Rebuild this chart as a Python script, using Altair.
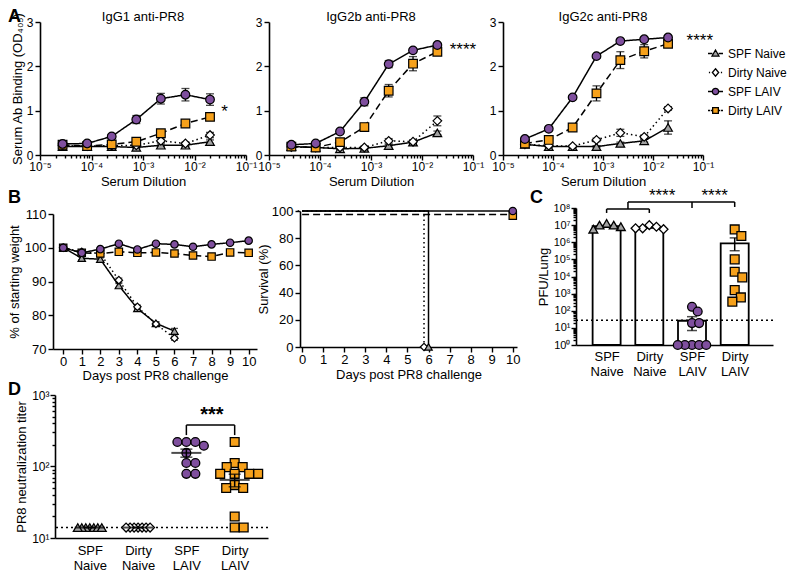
import math
import altair as alt
import pandas as pd

FONT = "Liberation Sans"
GROUPS = ["SPF Naive", "Dirty Naive", "SPF LAIV", "Dirty LAIV"]
FILLS = ["#a3a3a3", "#ffffff", "#7f4f9e", "#f6a11b"]
SHAPES = ["triangle-up", "diamond", "circle", "square"]
DASHES = [[1, 0], [1.5, 3], [1, 0], [7, 4]]
DRAW_ORDER = ["SPF Naive", "Dirty Naive", "Dirty LAIV", "SPF LAIV"]
STYLE = {g: (s, f, d) for g, s, f, d in zip(GROUPS, SHAPES, FILLS, DASHES)}

# ---------------- Panel A : serum antibody binding (OD405) ----------------
dilution = [1 / 36450, 1 / 12150, 1 / 4050, 1 / 1350, 1 / 450, 1 / 150, 1 / 50]

igg1_spf_naive = [0.19, 0.19, 0.19, 0.17, 0.22, 0.22, 0.30]
igg1_dirty_naive = [0.21, 0.20, 0.21, 0.22, 0.32, 0.26, 0.45]
igg1_spf_laiv = [0.25, 0.26, 0.42, 0.80, 1.27, 1.36, 1.25]
igg1_dirty_laiv = [0.23, 0.20, 0.24, 0.30, 0.49, 0.71, 0.86]
igg1_spf_naive_err = [0.02, 0.02, 0.02, 0.02, 0.03, 0.03, 0.04]
igg1_dirty_naive_err = [0.02, 0.02, 0.02, 0.03, 0.04, 0.03, 0.06]
igg1_spf_laiv_err = [0.03, 0.03, 0.04, 0.09, 0.12, 0.14, 0.13]
igg1_dirty_laiv_err = [0.02, 0.02, 0.03, 0.04, 0.05, 0.05, 0.05]

igg2b_spf_naive = [0.19, 0.17, 0.14, 0.15, 0.21, 0.29, 0.50]
igg2b_dirty_naive = [0.18, 0.17, 0.17, 0.17, 0.32, 0.30, 0.77]
igg2b_spf_laiv = [0.23, 0.26, 0.53, 1.20, 2.05, 2.36, 2.48]
igg2b_dirty_laiv = [0.19, 0.17, 0.29, 0.63, 1.45, 2.06, 2.33]
igg2b_spf_naive_err = [0.02, 0.02, 0.02, 0.03, 0.03, 0.04, 0.04]
igg2b_dirty_naive_err = [0.02, 0.02, 0.02, 0.03, 0.05, 0.04, 0.11]
igg2b_spf_laiv_err = [0.02, 0.03, 0.04, 0.09, 0.08, 0.04, 0.03]
igg2b_dirty_laiv_err = [0.02, 0.02, 0.04, 0.06, 0.14, 0.16, 0.08]

igg2c_spf_naive = [0.24, 0.19, 0.19, 0.19, 0.26, 0.32, 0.62]
igg2c_dirty_naive = [0.24, 0.21, 0.20, 0.34, 0.50, 0.41, 1.05]
igg2c_spf_laiv = [0.36, 0.59, 1.30, 2.23, 2.57, 2.61, 2.65]
igg2c_dirty_laiv = [0.26, 0.34, 0.62, 1.39, 2.14, 2.34, 2.51]
igg2c_spf_naive_err = [0.02, 0.02, 0.02, 0.02, 0.03, 0.03, 0.15]
igg2c_dirty_naive_err = [0.02, 0.02, 0.02, 0.04, 0.08, 0.04, 0.04]
igg2c_spf_laiv_err = [0.03, 0.03, 0.04, 0.03, 0.03, 0.03, 0.03]
igg2c_dirty_laiv_err = [0.03, 0.03, 0.04, 0.17, 0.19, 0.15, 0.07]

# ---------------- Panel B : weight and survival ----------------
days = [0, 1, 2, 3, 4, 5, 6, 7, 8, 9, 10]
weight_spf_naive = [100, 96.9, 96.6, 88.8, 82.0, 77.6, 75.3]
weight_dirty_naive = [100, 98.8, 98.3, 90.4, 82.5, 77.4, 73.2]
weight_spf_laiv = [100, 98.5, 99.6, 101.2, 99.5, 101.2, 101.0, 100.3, 101.0, 101.5, 102.1]
weight_dirty_laiv = [100, 98.5, 98.3, 98.8, 98.5, 98.6, 98.3, 97.7, 97.4, 98.6, 98.5]
weight_spf_naive_err = [0, 0.4, 0.4, 0.6, 0.5, 0.5, 0.8]
weight_dirty_naive_err = [0, 0.3, 0.4, 0.6, 0.5, 0.5, 0.6]
weight_spf_laiv_err = [0, 0.3, 0.3, 0.3, 0.3, 0.3, 0.3, 0.3, 0.3, 0.3, 0.3]
weight_dirty_laiv_err = [0, 0.3, 0.3, 0.3, 0.3, 0.3, 0.3, 0.3, 0.3, 0.3, 0.3]

surv_days_naive = [0, 6, 6]
surv_naive = [100, 100, 0]
surv_days_laiv = [0, 10]
surv_laiv = [100, 100]

# ---------------- Panel C : lung titres ----------------
pfu_spf_naive = [8.1e6, 1.26e7, 1.0e7, 1.0e7, 5.8e6]
pfu_dirty_naive = [6.5e6, 1.0e7, 8.0e6, 6.5e6, 5.8e6]
pfu_spf_laiv = [170, 90, 19, 19, 1, 1, 1, 1, 1]
pfu_dirty_laiv = [5.6e6, 2.3e6, 1.0e5, 1.9e4, 8.9e3, 1.6e3, 600, 340]
pfu_mean = [8.6e6, 7.4e6, 26, 8.7e5]
pfu_err_hi = [9.6e6, 8.2e6, 45, 1.8e6]
pfu_err_lo = [7.6e6, 6.6e6, 7, 3.2e5]
pfu_limit = 28

# ---------------- Panel D : neutralization titres ----------------
neut_spf_naive = [14, 14, 14, 14, 14, 14, 14]
neut_dirty_naive = [14, 14, 14, 14, 14, 14, 14]
neut_spf_laiv = [220, 220, 220, 195, 155, 112, 112, 79, 79]
neut_dirty_laiv = [220, 112, 98, 98, 79, 79, 79, 79, 55, 50, 50, 20, 14, 14]
neut_mean = [14, 14, 155, 65]
neut_sem = [0, 0, 20, 13]
neut_limit = 14

# ======================================================================
SUP = str.maketrans("-0123456789", "⁻⁰¹²³⁴⁵⁶⁷⁸⁹")
DEC_TEST = "abs(log(datum.value)/LN10 - round(log(datum.value)/LN10)) < 0.01"
COND_TICK = {"condition": {"test": DEC_TEST, "value": 5}, "value": 3}


def log_values(lo, hi):
    vals = []
    for e in range(lo, hi):
        for m in range(1, 10):
            vals.append(m * 10.0 ** e)
    vals.append(10.0 ** hi)
    return vals


def sup_expr(lo, hi):
    chain = " : ".join(
        f"round(log(datum.value)/LN10) == {e} ? '10{str(e).translate(SUP)}'"
        for e in range(lo, hi + 1))
    return f"{DEC_TEST} ? ({chain} : '') : ''"


def letter(ch, x, y):
    return alt.Chart(pd.DataFrame({"t": [ch]})).mark_text(
        fontSize=18, fontWeight="bold", align="left", baseline="alphabetic",
        font=FONT, color="black").encode(text="t:N", x=alt.value(x), y=alt.value(y))


def heading(txt, x, y):
    return alt.Chart(pd.DataFrame({"t": [txt]})).mark_text(
        fontSize=13, align="center", baseline="alphabetic", font=FONT,
        color="black").encode(text="t:N", x=alt.value(x), y=alt.value(y))


def segs(df, xenc, x2, yenc, y2):
    return alt.Chart(df).mark_rule(color="black", strokeWidth=1.5).encode(
        x=xenc, x2=x2, y=yenc, y2=y2)


# ---------------- Panel A builders ----------------
def a_frame(vals, errs):
    rows = []
    for g in DRAW_ORDER:
        i = GROUPS.index(g)
        for d, v, e in zip(dilution, vals[i], errs[i]):
            rows.append(dict(group=g, dil=d, od=v, lo=v - e, hi=v + e))
    return pd.DataFrame(rows)


LEGEND_PATHS = [
    "M-1,0H-0.42M0.42,0H1M0,-0.46L0.46,0.34L-0.46,0.34Z",
    "M-0.88,0H-0.72M0.72,0H0.88M0,-0.5L0.42,0L0,0.5L-0.42,0Z",
    "M-1,0H-0.42M0.42,0H1M0.42,0A0.42,0.42 0 1,1 -0.42,0A0.42,0.42 0 1,1 0.42,0Z",
    "M-1,0H-0.72M-0.62,0H-0.38M0.38,0H0.62M0.72,0H1M-0.38,-0.38H0.38V0.38H-0.38Z",
]


def panel_a(df, title, ytitle, width, stars, legend=False, let=None):
    xs = alt.Scale(type="log", domain=[1e-5, 1e-1])
    ys = alt.Scale(domain=[0, 3])
    xax = alt.Axis(values=log_values(-5, -1), labelExpr=sup_expr(-5, -1),
                   tickSize=COND_TICK, title="Serum Dilution", labelFontSize=12,
                   labelPadding=1, titlePadding=3, labelOverlap=False, labelFlush=False)
    yax = alt.Axis(values=[0, 1, 2, 3], title=ytitle if ytitle else None, titlePadding=2)

    def X(f="dil"):
        return alt.X(f"{f}:Q", scale=xs, axis=xax)

    def Y(f):
        return alt.Y(f"{f}:Q", scale=ys, axis=yax)

    base = alt.Chart(df)
    layers = []
    for g in GROUPS:
        layers.append(base.transform_filter(alt.datum.group == g).mark_line(
            color="black", strokeWidth=1.5, strokeDash=STYLE[g][2]).encode(x=X(), y=Y("od")))
    layers.append(base.mark_rule(color="black", strokeWidth=1.3).encode(
        x=X(), y=Y("lo"), y2="hi:Q"))
    for f in ["lo", "hi"]:
        layers.append(base.mark_tick(orient="horizontal", size=8, thickness=1.3,
                                     color="black").encode(x=X(), y=Y(f)))
    for g in DRAW_ORDER:
        shape, fill, _ = STYLE[g]
        layers.append(base.transform_filter(alt.datum.group == g).mark_point(
            shape=shape, filled=True, fill=fill, stroke="black", strokeWidth=1.2,
            opacity=1, size=75).encode(x=X(), y=Y("od")))
    sdf = pd.DataFrame({"dil": [stars[0]], "od": [stars[1]], "t": [stars[2]]})
    layers.append(alt.Chart(sdf).mark_text(fontSize=17, font=FONT, color="black",
                                           align="left", baseline="middle").encode(
        x=X(), y=Y("od"), text="t:N"))
    layers.append(heading(title, width / 2, -1))
    if legend:
        lg = alt.Legend(title=None, orient="none", legendX=667, legendY=23,
                        labelFontSize=12, labelFont=FONT, labelColor="black",
                        symbolSize=225, symbolStrokeWidth=1.3, rowPadding=4,
                        labelOffset=4, padding=0)
        layers.append(alt.Chart(pd.DataFrame({"group": GROUPS})).transform_filter(
            "false").mark_point(filled=True, opacity=1, size=225, strokeWidth=1.3).encode(
            shape=alt.Shape("group:N", scale=alt.Scale(domain=GROUPS, range=LEGEND_PATHS), legend=lg),
            fill=alt.Fill("group:N", scale=alt.Scale(domain=GROUPS, range=FILLS), legend=lg),
            stroke=alt.Stroke("group:N", scale=alt.Scale(domain=GROUPS, range=["black"] * 4),
                              legend=lg)))
    if let:
        layers.append(letter(*let))
    return alt.layer(*layers).properties(width=width, height=133)


A1 = panel_a(a_frame([igg1_spf_naive, igg1_dirty_naive, igg1_spf_laiv, igg1_dirty_laiv],
                     [igg1_spf_naive_err, igg1_dirty_naive_err, igg1_spf_laiv_err, igg1_dirty_laiv_err]),
             "IgG1 anti-PR8", "Serum Ab Binding (OD₄₀₅)", 206, (0.033, 0.97, "*"),
             let=("A", -32, 0))
A2 = panel_a(a_frame([igg2b_spf_naive, igg2b_dirty_naive, igg2b_spf_laiv, igg2b_dirty_laiv],
                     [igg2b_spf_naive_err, igg2b_dirty_naive_err, igg2b_spf_laiv_err, igg2b_dirty_laiv_err]),
             "IgG2b anti-PR8", None, 204, (0.035, 2.36, "****"))
A3 = panel_a(a_frame([igg2c_spf_naive, igg2c_dirty_naive, igg2c_spf_laiv, igg2c_dirty_laiv],
                     [igg2c_spf_naive_err, igg2c_dirty_naive_err, igg2c_spf_laiv_err, igg2c_dirty_laiv_err]),
             "IgG2c anti-PR8", None, 200, (0.047, 2.58, "****"), legend=True)


def spacer(w):
    return alt.Chart(pd.DataFrame({"v": [0]})).mark_point(opacity=0).encode(
        x=alt.X("v:Q", axis=None), y=alt.Y("v:Q", axis=None)).properties(width=w, height=1)


# ---------------- Panel B left : weight ----------------
def weight_frame():
    rows = []
    series = {"SPF Naive": (weight_spf_naive, weight_spf_naive_err),
              "Dirty Naive": (weight_dirty_naive, weight_dirty_naive_err),
              "SPF LAIV": (weight_spf_laiv, weight_spf_laiv_err),
              "Dirty LAIV": (weight_dirty_laiv, weight_dirty_laiv_err)}
    for g in DRAW_ORDER:
        v, e = series[g]
        for d, w, s in zip(days, v, e):
            rows.append(dict(group=g, day=d, w=w, lo=w - s, hi=w + s))
    return pd.DataFrame(rows)


wdf = weight_frame()
bxs = alt.Scale(domain=[-0.55, 10.45], nice=False)
bys = alt.Scale(domain=[70, 110], range=[141, 6])
bxax = alt.Axis(values=list(range(11)), title="Days post PR8 challenge", labelFontSize=13,
                labelPadding=1, titlePadding=1)
byax = alt.Axis(values=[70, 80, 90, 100, 110], title="% of starting weight", labelFontSize=13,
                titlePadding=3)
wbase = alt.Chart(wdf)
B1_layers = []
for g in GROUPS:
    B1_layers.append(wbase.transform_filter(alt.datum.group == g).mark_line(
        color="black", strokeWidth=1.5, strokeDash=STYLE[g][2]).encode(
        x=alt.X("day:Q", scale=bxs, axis=bxax), y=alt.Y("w:Q", scale=bys, axis=byax)))
B1_layers.append(wbase.mark_rule(color="black", strokeWidth=1.3).encode(
    x=alt.X("day:Q", scale=bxs, axis=bxax), y=alt.Y("lo:Q", scale=bys, axis=byax), y2="hi:Q"))
for f in ["lo", "hi"]:
    B1_layers.append(wbase.mark_tick(orient="horizontal", size=7, thickness=1.3, color="black").encode(
        x=alt.X("day:Q", scale=bxs, axis=bxax), y=alt.Y(f"{f}:Q", scale=bys, axis=byax)))
for g in DRAW_ORDER:
    shape, fill, _ = STYLE[g]
    B1_layers.append(wbase.transform_filter(alt.datum.group == g).mark_point(
        shape=shape, filled=True, fill=fill, stroke="black", strokeWidth=1.2,
        opacity=1, size=55).encode(
        x=alt.X("day:Q", scale=bxs, axis=bxax), y=alt.Y("w:Q", scale=bys, axis=byax)))
B1_layers.append(letter("B", -45, -5))
B1 = alt.layer(*B1_layers).properties(width=204, height=141)

# ---------------- Panel B right : survival ----------------
srows = []
for g in DRAW_ORDER:
    dd, ss = (surv_days_naive, surv_naive) if "Naive" in g else (surv_days_laiv, surv_laiv)
    for k, (d, s) in enumerate(zip(dd, ss)):
        srows.append(dict(group=g, day=d, s=s, k=k, last=(k == len(dd) - 1)))
sdf = pd.DataFrame(srows)
sxs = alt.Scale(domain=[-0.1, 10.2], nice=False)
sys_ = alt.Scale(domain=[0, 100], range=[139, 3])
sxax = alt.Axis(values=list(range(11)), title="Days post PR8 challenge", labelFontSize=13,
                labelPadding=1, titlePadding=2)
syax = alt.Axis(values=[0, 20, 40, 60, 80, 100], title="Survival (%)", labelFontSize=13,
                titlePadding=1)
SHIFT = {"SPF Naive": (0, 0), "Dirty Naive": (-4.5, 0), "SPF LAIV": (0, 0), "Dirty LAIV": (0, 3.6)}
B2_layers = []
for g in ["Dirty LAIV", "Dirty Naive", "SPF Naive", "SPF LAIV"]:
    dx, dy = SHIFT[g]
    B2_layers.append(alt.Chart(sdf).transform_filter(alt.datum.group == g).mark_line(
        color="black", strokeWidth=1.5, strokeDash=STYLE[g][2], xOffset=dx, yOffset=dy).encode(
        x=alt.X("day:Q", scale=sxs, axis=sxax), y=alt.Y("s:Q", scale=sys_, axis=syax),
        order="k:Q"))
for g in ["Dirty Naive", "SPF Naive", "Dirty LAIV", "SPF LAIV"]:
    dx, dy = SHIFT[g]
    shape, fill, _ = STYLE[g]
    B2_layers.append(alt.Chart(sdf).transform_filter(alt.datum.group == g).transform_filter(
        alt.datum.last == True).mark_point(
        shape=shape, filled=True, fill=fill, stroke="black", strokeWidth=1.2, opacity=1,
        size=55, xOffset=dx, yOffset=dy + (1 if g == "Dirty LAIV" else 0)).encode(
        x=alt.X("day:Q", scale=sxs, axis=sxax), y=alt.Y("s:Q", scale=sys_, axis=syax)))
B2 = alt.layer(*B2_layers).properties(width=217, height=139)


# ---------------- beeswarm offsets (layout computed from values) ----------------
def swarm(vals, px_per_decade, diam, px_per_unit):
    placed = []
    offs = [0.0] * len(vals)
    for i in sorted(range(len(vals)), key=lambda j: -vals[j]):
        y = -px_per_decade * math.log10(vals[i])
        k = 0
        while True:
            cands = [0.0] if k == 0 else [k * 0.5, -k * 0.5]
            hit = None
            for c in cands:
                if all((c - px) ** 2 + (y - py) ** 2 >= diam ** 2 - 1e-6 for px, py in placed):
                    hit = c
                    break
            if hit is not None:
                placed.append((hit, y))
                offs[i] = hit / px_per_unit
                break
            k += 1
    return offs


# ---------------- Panel C ----------------
CAT_LABELS = "[" + ",".join(f"'{g}'" for g in GROUPS) + "]"
cxs = alt.Scale(domain=[-0.6, 3.78], nice=False)
cys = alt.Scale(type="log", domain=[1, 1e8], range=[137, 0])
cxax = alt.Axis(values=[0, 1, 2, 3], labelExpr=f"split({CAT_LABELS}[datum.value], ' ')",
                ticks=False, title=None, labelFontSize=13, labelPadding=5, labelLineHeight=15)
cyax = alt.Axis(values=log_values(0, 8), labelExpr=sup_expr(0, 8), tickSize=COND_TICK,
                title="PFU/Lung", labelFontSize=11, labelOverlap=False, labelFlush=False,
                labelPadding=1, titlePadding=3)


def CX(f="pos"):
    return alt.X(f"{f}:Q", scale=cxs, axis=cxax)


def CY(f="v"):
    return alt.Y(f"{f}:Q", scale=cys, axis=cyax)


cbar = pd.DataFrame({"pos": [0, 1, 2, 3], "v": pfu_mean, "lo": pfu_err_lo, "hi": pfu_err_hi})
cpts = []
for i, vals in enumerate([pfu_spf_naive, pfu_dirty_naive, pfu_spf_laiv, pfu_dirty_laiv]):
    offs = swarm(vals, 17.125, 7.5 if i < 3 else 9.5, 45)
    for v, o in zip(vals, offs):
        cpts.append(dict(group=GROUPS[i], pos=i + o, v=v))
cpts = pd.DataFrame(cpts)

U = 10 ** 8.35
LO1, LO0 = 10 ** 7.94, 10 ** 7.71
cseg = pd.DataFrame({
    "x": [0, 1, 0, 0.5, 0.5, 2, 3],
    "x2": [0, 1, 1, 0.5, 3, 2, 3],
    "y": [LO0, LO0, LO1, LO1, U, U, U],
    "y2": [LO1, LO1, LO1, U, U, 10 ** 8.0, 10 ** 8.06],
})
cstar = pd.DataFrame({"pos": [1.3, 2.53], "v": [10 ** 8.68, 10 ** 8.68], "t": ["****", "****"]})

C_layers = [
    alt.Chart(cbar).mark_bar(size=28, fill="white", stroke="black", strokeWidth=1.8).encode(
        x=CX(), y=CY(), y2=alt.datum(1)),
    alt.Chart(pd.DataFrame({"v": [pfu_limit]})).mark_rule(
        color="black", strokeWidth=1.5, strokeDash=[2, 3]).encode(y=CY()),
    alt.Chart(cbar).mark_rule(color="black", strokeWidth=1.5).encode(x=CX(), y=CY("lo"), y2="hi:Q"),
    alt.Chart(cbar).mark_tick(orient="horizontal", size=10, thickness=1.5, color="black").encode(
        x=CX(), y=CY("hi")),
    alt.Chart(cbar).mark_tick(orient="horizontal", size=10, thickness=1.5, color="black").encode(
        x=CX(), y=CY("lo")),
]
for g in GROUPS:
    shape, fill, _ = STYLE[g]
    C_layers.append(alt.Chart(cpts).transform_filter(alt.datum.group == g).mark_point(
        shape=shape, filled=True, fill=fill, stroke="black", strokeWidth=1.3, opacity=1,
        size=78).encode(x=CX(), y=CY()))
C_layers.append(segs(cseg, CX("x"), "x2:Q", CY("y"), "y2:Q"))
C_layers.append(alt.Chart(cstar).mark_text(fontSize=17, font=FONT, color="black",
                                           baseline="middle").encode(x=CX(), y=CY(), text="t:N"))
C_layers.append(letter("C", -46, -5))
C = alt.layer(*C_layers).properties(width=197, height=137)

# ---------------- Panel D ----------------
dxs = alt.Scale(domain=[-0.72, 3.69], nice=False)
dys = alt.Scale(type="log", domain=[10, 1000])
dxax = alt.Axis(values=[0, 1, 2, 3], labelExpr=f"split({CAT_LABELS}[datum.value], ' ')",
                ticks=False, title=None, labelFontSize=13, labelPadding=6, labelLineHeight=15)
dyax = alt.Axis(values=log_values(1, 3), labelExpr=sup_expr(1, 3), tickSize=COND_TICK,
                title="PR8 neutralization titer", labelFontSize=12, labelOverlap=False,
                labelFlush=False, labelPadding=1, titlePadding=3)


def DX(f="pos"):
    return alt.X(f"{f}:Q", scale=dxs, axis=dxax)


def DY(f="v"):
    return alt.Y(f"{f}:Q", scale=dys, axis=dyax)


dmean = pd.DataFrame({"pos": [0, 1, 2, 3], "v": neut_mean,
                      "lo": [m - s for m, s in zip(neut_mean, neut_sem)],
                      "hi": [m + s for m, s in zip(neut_mean, neut_sem)]})
dpts = []
for i, vals in enumerate([neut_spf_naive, neut_dirty_naive, neut_spf_laiv, neut_dirty_laiv]):
    offs = swarm(vals, 71.5, 4.0 if i < 2 else 9.0, 48.3)
    for v, o in zip(vals, offs):
        dpts.append(dict(group=GROUPS[i], pos=i + o, v=v))
dpts = pd.DataFrame(dpts)
dseg = pd.DataFrame({"x": [2, 3, 2], "x2": [2, 3, 3],
                     "y": [275, 275, 380], "y2": [380, 380, 380]})
dstar = pd.DataFrame({"pos": [2.53], "v": [530], "t": ["***"]})

D_layers = [
    alt.Chart(pd.DataFrame({"v": [neut_limit]})).mark_rule(
        color="black", strokeWidth=1.5, strokeDash=[2, 3]).encode(y=DY()),
]
for g in GROUPS:
    shape, fill, _ = STYLE[g]
    D_layers.append(alt.Chart(dpts).transform_filter(alt.datum.group == g).mark_point(
        shape=shape, filled=True, fill=fill, stroke="black", strokeWidth=1.3, opacity=1,
        size=78).encode(x=DX(), y=DY()))
D_layers += [
    alt.Chart(dmean).mark_tick(orient="horizontal", size=30, thickness=2, color="black").encode(
        x=DX(), y=DY()),
    alt.Chart(dmean).mark_rule(color="black", strokeWidth=1.5).encode(x=DX(), y=DY("lo"), y2="hi:Q"),
    alt.Chart(dmean).mark_tick(orient="horizontal", size=12, thickness=1.5, color="black").encode(
        x=DX(), y=DY("lo")),
    alt.Chart(dmean).mark_tick(orient="horizontal", size=12, thickness=1.5, color="black").encode(
        x=DX(), y=DY("hi")),
    segs(dseg, DX("x"), "x2:Q", DY("y"), "y2:Q"),
    alt.Chart(dstar).mark_text(fontSize=20, fontWeight="bold", font=FONT, color="black",
                               baseline="middle").encode(x=DX(), y=DY(), text="t:N"),
    letter("D", -47, 0),
]
D = alt.layer(*D_layers).properties(width=213, height=143)

row1 = alt.hconcat(A1, spacer(23), A2, spacer(30), A3, spacing=0, bounds="flush")
row2 = alt.hconcat(spacer(13), B1, spacer(43), B2, spacer(59), C, spacing=0, bounds="flush")
row3 = alt.hconcat(spacer(15), D, spacing=0, bounds="flush")

chart = alt.vconcat(row1, row2, row3, spacing=-1).properties(padding=0).configure(
    font=FONT).configure_view(stroke=None).configure_axis(
    grid=False, domainColor="black", domainWidth=1.6, tickColor="black", tickWidth=1.4,
    tickSize=5, labelColor="black", labelFont=FONT, titleFont=FONT, titleColor="black",
    titleFontWeight="normal", titleFontSize=13, labelFontSize=12, labelPadding=2,
    titlePadding=4).configure_legend(labelFont=FONT)

chart.save("out.html", embed_options={"renderer": "svg", "actions": False})
